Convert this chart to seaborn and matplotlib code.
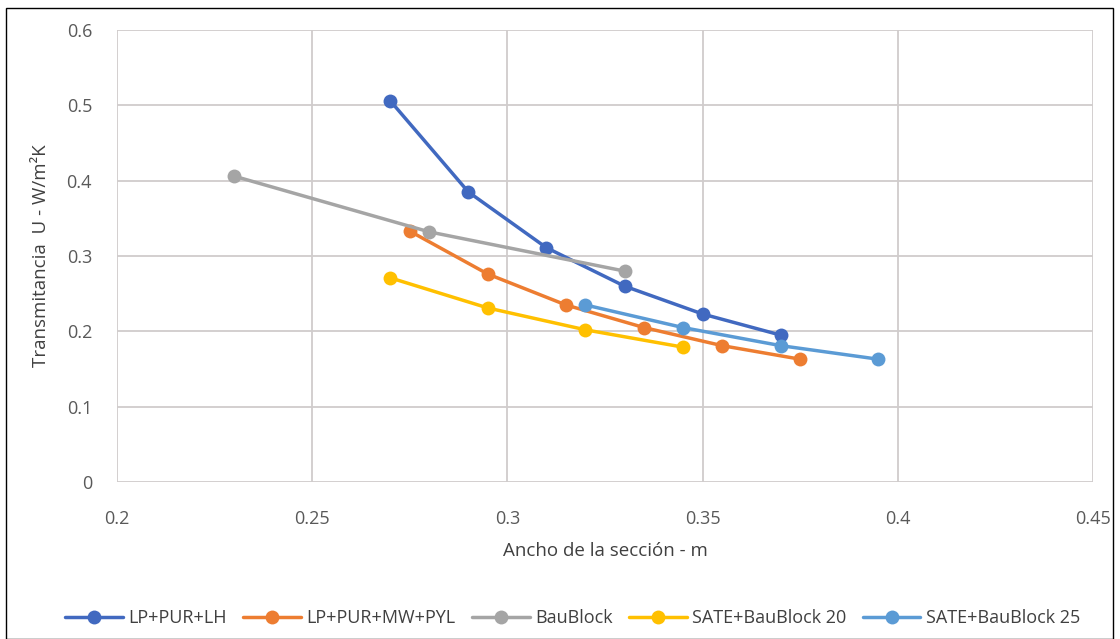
import numpy as np
import pandas as pd
import matplotlib
matplotlib.use("Agg")
import matplotlib.pyplot as plt
import seaborn as sns
from matplotlib.patches import Rectangle

# data
x_lh = [0.27, 0.29, 0.31, 0.33, 0.35, 0.37]
y_lh = [0.506, 0.385, 0.311, 0.260, 0.223, 0.195]
x_mw = [0.275, 0.295, 0.315, 0.335, 0.355, 0.375]
y_mw = [0.333, 0.276, 0.235, 0.205, 0.181, 0.163]
x_bb = [0.23, 0.28, 0.33]
y_bb = [0.406, 0.332, 0.280]
x_s20 = [0.27, 0.295, 0.32, 0.345]
y_s20 = [0.271, 0.231, 0.202, 0.179]
x_s25 = [0.32, 0.345, 0.37, 0.395]
y_s25 = [0.235, 0.205, 0.181, 0.163]

names = ["LP+PUR+LH", "LP+PUR+MW+PYL", "BauBlock", "SATE+BauBlock 20", "SATE+BauBlock 25"]
colors = ["#4169c0", "#ed7d31", "#a5a5a5", "#ffc000", "#5b9bd5"]

frames = []
for n, xs, ys in zip(names, [x_lh, x_mw, x_bb, x_s20, x_s25], [y_lh, y_mw, y_bb, y_s20, y_s25]):
    frames.append(pd.DataFrame({"x": xs, "y": ys, "serie": n}))
df = pd.concat(frames, ignore_index=True)

sns.set_style("white")
plt.rcParams["font.family"] = ["Open Sans", "DejaVu Sans"]

fig = plt.figure(figsize=(11.2, 6.39), dpi=100)
ax = fig.add_axes([117 / 1120, 1 - 482 / 639, 976 / 1120, 452 / 639])

sns.lineplot(data=df, x="x", y="y", hue="serie", hue_order=names, palette=colors,
             marker="o", markersize=10, markeredgewidth=0, linewidth=2.5,
             sort=False, ax=ax, zorder=3)

ax.set_xlim(0.2, 0.45)
ax.set_ylim(0, 0.6)
ax.set_xticks(np.arange(0.2, 0.451, 0.05))
ax.set_xticklabels(["0.2", "0.25", "0.3", "0.35", "0.4", "0.45"])
ax.set_yticks(np.arange(0, 0.61, 0.1))
ax.set_yticklabels(["0", "0.1", "0.2", "0.3", "0.4", "0.5", "0.6"])
ax.grid(True, color="#d0cccc", linewidth=1.3)
for s in ax.spines.values():
    s.set_visible(False)
ax.tick_params(axis="x", length=0, labelsize=13, colors="#595959", pad=20)
ax.tick_params(axis="y", length=0, labelsize=13, colors="#595959", pad=18)

ax.set_xlabel("Ancho de la sección - m", fontsize=13.5, color="#404040", labelpad=10)
ax.set_ylabel("Transmitancia  U - W/m²K", fontsize=13.5, color="#404040", labelpad=12)

ax.legend(loc="upper center", bbox_to_anchor=(0.467, -0.245), ncol=5, frameon=False,
          fontsize=13, handlelength=3.2, handletextpad=0.3, columnspacing=0.9,
          labelcolor="#404040")

fig.patches.append(Rectangle((6 / 1120, 0), 1107 / 1120, 631 / 639, transform=fig.transFigure,
                             fill=False, edgecolor="black", linewidth=1))

fig.savefig("out.png", dpi=100, facecolor="white")
